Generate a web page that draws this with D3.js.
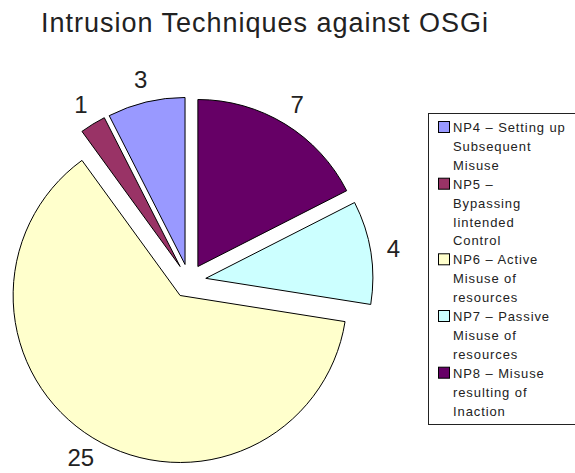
<!DOCTYPE html>
<html lang="en">
<head>
  <meta charset="UTF-8">
  <title>Intrusion Techniques against OSGi</title>
  <script src="https://d3js.org/d3.v7.min.js"></script>
  <style>
    body {
      margin: 0;
      background: #fff;
      font-family: 'Liberation Sans', Arial, sans-serif;
    }
    svg {
      display: block;
    }
    .legend text {
      font-size: 13px;
      letter-spacing: 0.9px;
      fill: #222;
    }
  </style>
</head>
<body>
  <svg id="chart"></svg>

  <script>
    // data, in legend order
    const categories = ["NP4", "NP5", "NP6", "NP7", "NP8"];
    const values = [3, 1, 25, 4, 7];
    const sliceColors = ["#9999ff", "#993366", "#ffffcc", "#ccffff", "#660066"];
    const legendLines = [
      ["NP4 – Setting up", "Subsequent", "Misuse"],
      ["NP5 –", "Bypassing", "Iintended", "Control"],
      ["NP6 – Active", "Misuse of", "resources"],
      ["NP7 – Passive", "Misuse of", "resources"],
      ["NP8 – Misuse", "resulting of", "Inaction"]
    ];
    const title = "Intrusion Techniques against OSGi";

    const W = 575, H = 473;
    const cx = 189, cy = 281, radius = 167, explode = 17, labelR = 190;

    const svg = d3.select("#chart")
      .attr("width", W)
      .attr("height", H);

    svg.append("rect")
      .attr("width", W).attr("height", H)
      .attr("fill", "#fff");

    // title
    svg.append("text")
      .attr("x", 265)
      .attr("y", 32)
      .attr("text-anchor", "middle")
      .attr("font-size", 27)
      .attr("letter-spacing", 1)
      .attr("fill", "#222")
      .text(title);

    // pie, counter-clockwise from 12 o'clock like the original
    const pie = d3.pie()
      .sort(null)
      .startAngle(0)
      .endAngle(-2 * Math.PI)
      .value(d => d);

    const arc = d3.arc()
      .innerRadius(0)
      .outerRadius(radius);

    const color = d3.scaleOrdinal()
      .domain(categories)
      .range(sliceColors);

    const arcs = pie(values);

    const g = svg.append("g")
      .attr("transform", `translate(${cx},${cy})`);

    const slice = g.selectAll("g.slice")
      .data(arcs)
      .join("g")
      .attr("class", "slice")
      .attr("transform", d => {
        const m = (d.startAngle + d.endAngle) / 2;
        return `translate(${explode * Math.sin(m)},${-explode * Math.cos(m)})`;
      });

    slice.append("path")
      .attr("d", arc)
      .attr("fill", (d, i) => color(categories[i]))
      .attr("stroke", "#000")
      .attr("stroke-width", 1);

    slice.append("text")
      .attr("x", d => labelR * Math.sin((d.startAngle + d.endAngle) / 2))
      .attr("y", d => -labelR * Math.cos((d.startAngle + d.endAngle) / 2))
      .attr("text-anchor", "middle")
      .attr("dy", "0.35em")
      .attr("font-size", 24)
      .attr("fill", "#222")
      .text(d => d.value);

    // legend
    const lineH = 18.9;
    const legend = svg.append("g").attr("class", "legend");

    legend.append("rect")
      .attr("x", 428.5)
      .attr("y", 113.5)
      .attr("width", 200)
      .attr("height", 311)
      .attr("fill", "#fff")
      .attr("stroke", "#222");

    let line = 0;
    legendLines.forEach((lines, i) => {
      const y0 = 132 + line * lineH;
      legend.append("rect")
        .attr("x", 438.5)
        .attr("y", y0 - 10.5)
        .attr("width", 11)
        .attr("height", 11)
        .attr("fill", color(categories[i]))
        .attr("stroke", "#000");
      lines.forEach((t, j) => {
        legend.append("text")
          .attr("x", 453)
          .attr("y", y0 + j * lineH)
          .text(t);
      });
      line += lines.length;
    });
  </script>
</body>
</html>
